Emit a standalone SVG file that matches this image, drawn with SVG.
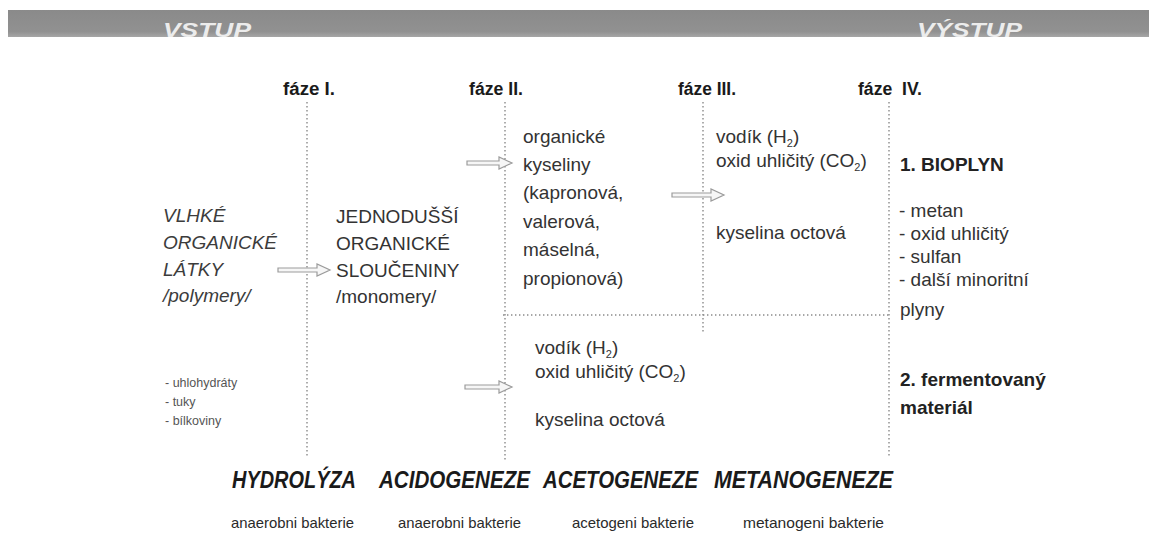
<svg xmlns="http://www.w3.org/2000/svg" width="1149" height="537" viewBox="0 0 1149 537">
<style>
  text { font-family: "Liberation Sans", Arial, sans-serif; }
  .hdr { font-size: 21px; font-weight: bold; font-style: italic; fill: #ececec; }
  .phase { font-size: 18px; font-weight: bold; fill: #1a1a1a; }
  .it { font-size: 19px; font-style: italic; fill: #3c3c3c; }
  .bd { font-size: 19px; fill: #333; }
  .bb { font-size: 19px; font-weight: bold; fill: #222; }
  .sm { font-size: 12.5px; fill: #555; }
  .proc { font-size: 24px; font-weight: bold; font-style: italic; fill: #1a1a1a; }
  .bact { font-size: 15px; fill: #2a2a2a; }
  .sep { stroke: #8a8a8a; stroke-width: 1.4; stroke-dasharray: 1.4 2.6; fill: none; }
  .arrow { stroke: #9c9c9c; stroke-width: 1.2; fill: #f6f6f6; stroke-linejoin: miter; }
</style>
<defs>
  <linearGradient id="barg" x1="0" y1="0" x2="0" y2="1">
    <stop offset="0" stop-color="#8a8a8a"/>
    <stop offset="0.8" stop-color="#919191"/>
    <stop offset="1" stop-color="#a6a6a6"/>
  </linearGradient>
</defs>
<rect x="0" y="0" width="1149" height="537" fill="#ffffff"/>

<g id="header">
  <rect x="8" y="10" width="1141" height="27" fill="url(#barg)"/>
  <text class="hdr" x="163" y="37" textLength="88" lengthAdjust="spacingAndGlyphs">VSTUP</text>
  <text class="hdr" x="917" y="37" textLength="105" lengthAdjust="spacingAndGlyphs">VÝSTUP</text>
</g>

<g id="phase-labels">
  <text class="phase" x="283" y="95" textLength="52" lengthAdjust="spacingAndGlyphs">fáze I.</text>
  <text class="phase" x="469" y="95" textLength="54" lengthAdjust="spacingAndGlyphs">fáze II.</text>
  <text class="phase" x="678" y="95" textLength="58" lengthAdjust="spacingAndGlyphs">fáze III.</text>
  <text class="phase" x="858" y="95" textLength="64" lengthAdjust="spacingAndGlyphs" xml:space="preserve">fáze  IV.</text>
</g>

<g id="separators">
  <line class="sep" x1="307" y1="102" x2="307" y2="458"/>
  <line class="sep" x1="505" y1="102" x2="505" y2="460"/>
  <line class="sep" x1="703" y1="102" x2="703" y2="334"/>
  <line class="sep" x1="889" y1="102" x2="889" y2="458"/>
  <line class="sep" x1="503" y1="315" x2="890" y2="315"/>
</g>

<g id="connectors">
  <path class="arrow" d="M278 268 L317 268 L317 264 L330 270 L317 276 L317 272 L278 272 Z"/>
  <path class="arrow" d="M467 161 L499 161 L499 157 L512 163 L499 169 L499 165 L467 165 Z"/>
  <path class="arrow" d="M672 193 L711 193 L711 189 L724 195 L711 201 L711 197 L672 197 Z"/>
  <path class="arrow" d="M465 385 L499 385 L499 381 L512 387 L499 393 L499 389 L465 389 Z"/>
</g>

<g id="node-input">
  <text class="it" x="163" y="222">VLHKÉ</text>
  <text class="it" x="163" y="249">ORGANICKÉ</text>
  <text class="it" x="163" y="276">LÁTKY</text>
  <text class="it" x="163" y="302">/polymery/</text>
</g>

<g id="node-input-list">
  <text class="sm" x="165" y="387">- uhlohydráty</text>
  <text class="sm" x="165" y="406">- tuky</text>
  <text class="sm" x="165" y="425">- bílkoviny</text>
</g>

<g id="node-monomers">
  <text class="bd" x="336" y="223">JEDNODUŠŠÍ</text>
  <text class="bd" x="336" y="250">ORGANICKÉ</text>
  <text class="bd" x="336" y="277">SLOUČENINY</text>
  <text class="bd" x="336" y="303">/monomery/</text>
</g>

<g id="node-acids">
  <text class="bd" x="523" y="143">organické</text>
  <text class="bd" x="523" y="171">kyseliny</text>
  <text class="bd" x="523" y="199">(kapronová,</text>
  <text class="bd" x="523" y="228">valerová,</text>
  <text class="bd" x="523" y="256">máselná,</text>
  <text class="bd" x="523" y="285">propionová)</text>
</g>

<g id="node-acetogenesis-products">
  <text class="bd" x="716" y="143">vodík (H<tspan font-size="11" dy="4">2</tspan><tspan dy="-4">)</tspan></text>
  <text class="bd" x="716" y="167">oxid uhličitý (CO<tspan font-size="11" dy="4">2</tspan><tspan dy="-4">)</tspan></text>
  <text class="bd" x="716" y="239">kyselina octová</text>
</g>

<g id="node-acidogenesis-products">
  <text class="bd" x="535" y="354">vodík (H<tspan font-size="11" dy="4">2</tspan><tspan dy="-4">)</tspan></text>
  <text class="bd" x="535" y="378">oxid uhličitý (CO<tspan font-size="11" dy="4">2</tspan><tspan dy="-4">)</tspan></text>
  <text class="bd" x="535" y="426">kyselina octová</text>
</g>

<g id="node-biogas">
  <text class="bb" x="900" y="171">1. BIOPLYN</text>
  <text class="bd" x="899" y="217">- metan</text>
  <text class="bd" x="899" y="240">- oxid uhličitý</text>
  <text class="bd" x="899" y="263">- sulfan</text>
  <text class="bd" x="899" y="286">- další minoritní</text>
  <text class="bd" x="900" y="316">plyny</text>
</g>

<g id="node-digestate">
  <text class="bb" x="900" y="386">2. fermentovaný</text>
  <text class="bb" x="900" y="414">materiál</text>
</g>

<g id="processes">
  <text class="proc" x="232" y="488" textLength="124" lengthAdjust="spacingAndGlyphs">HYDROLÝZA</text>
  <text class="proc" x="379" y="488" textLength="151" lengthAdjust="spacingAndGlyphs">ACIDOGENEZE</text>
  <text class="proc" x="543" y="488" textLength="155" lengthAdjust="spacingAndGlyphs">ACETOGENEZE</text>
  <text class="proc" x="714" y="488" textLength="179" lengthAdjust="spacingAndGlyphs">METANOGENEZE</text>
</g>

<g id="bacteria">
  <text class="bact" x="231" y="528" textLength="123" lengthAdjust="spacingAndGlyphs">anaerobni bakterie</text>
  <text class="bact" x="398" y="528" textLength="123" lengthAdjust="spacingAndGlyphs">anaerobni bakterie</text>
  <text class="bact" x="572" y="528" textLength="122" lengthAdjust="spacingAndGlyphs">acetogeni bakterie</text>
  <text class="bact" x="743" y="528" textLength="141" lengthAdjust="spacingAndGlyphs">metanogeni bakterie</text>
</g>
</svg>
